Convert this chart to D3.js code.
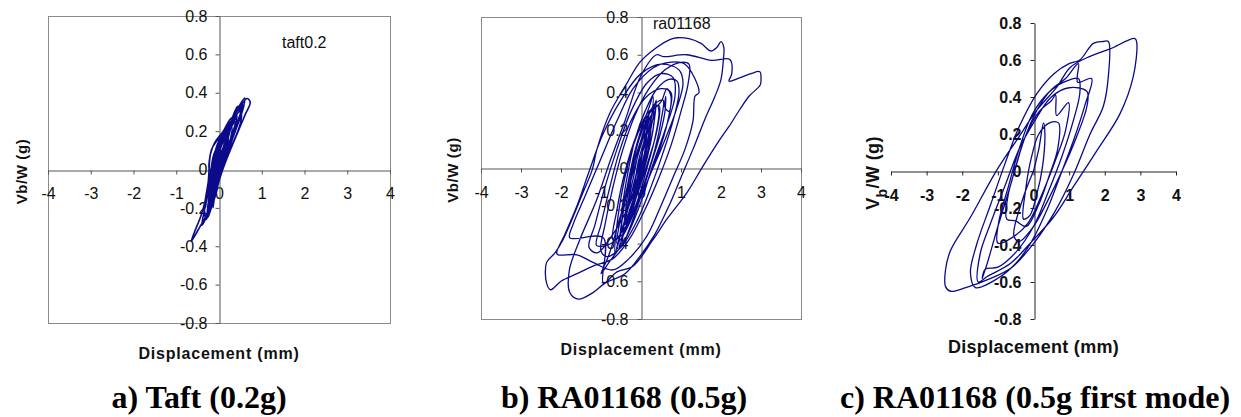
<!DOCTYPE html>
<html>
<head>
<meta charset="utf-8">
<script src="https://cdn.jsdelivr.net/npm/d3@7"></script>
<style>
  body { margin: 0; background: #fff; }
  svg { display: block; }
</style>
</head>
<body>
<div id="chart"></div>
<script>
// axis ticks shared by the three plots
const xTicks = [-4, -3, -2, -1, 0, 1, 2, 3, 4]
const yTicks = [-0.8, -0.6, -0.4, -0.2, 0, 0.2, 0.4, 0.6, 0.8]
const xTickLabels = ['-4', '-3', '-2', '-1', '0', '1', '2', '3', '4']
const yTickLabels = ['-0.8', '-0.6', '-0.4', '-0.2', '0', '0.2', '0.4', '0.6', '0.8']

const captions = ['a) Taft (0.2g)', 'b) RA01168 (0.5g)', 'c) RA01168 (0.5g first mode)']
const recordLabels = ['taft0.2', 'ra01168', '']

// [displacement (mm), Vb/W (g)]
const taftLoop = [
  [0, 0], [0.05, 0.06], [0.12, 0.1], [0.08, 0.04], [-0.02, -0.04], [-0.1, -0.1], [-0.06, -0.04],
  [0.02, 0.06], [0.15, 0.14], [0.22, 0.16], [0.14, 0.08], [0, -0.03], [-0.14, -0.14], [-0.2, -0.18],
  [-0.16, -0.08], [-0.1, 0.03], [0.05, 0.12], [0.2, 0.19], [0.3, 0.22], [0.26, 0.15], [0.12, 0.05],
  [-0.05, -0.08], [-0.2, -0.19], [-0.28, -0.24], [-0.22, -0.12], [-0.14, 0.02], [0, 0.12], [0.18, 0.2],
  [0.36, 0.27], [0.42, 0.28], [0.34, 0.2], [0.18, 0.08], [0.02, -0.03], [-0.12, -0.15], [-0.22, -0.22],
  [-0.15, -0.1], [-0.08, 0.03], [0.06, 0.14], [0.26, 0.23], [0.45, 0.32], [0.5, 0.3], [0.38, 0.2],
  [0.2, 0.09], [0.05, -0.02], [-0.1, -0.12], [-0.3, -0.24], [-0.45, -0.3], [-0.65, -0.375], [-0.58, -0.33],
  [-0.42, -0.24], [-0.3, -0.14], [-0.2, -0.02], [-0.12, 0.08], [0.05, 0.15], [0.25, 0.23], [0.42, 0.31],
  [0.6, 0.372], [0.58, 0.33], [0.48, 0.26], [0.3, 0.15], [0.15, 0.05], [0, -0.06], [-0.12, -0.16],
  [-0.22, -0.2], [-0.16, -0.06], [-0.08, 0.06], [0.1, 0.17], [0.3, 0.26], [0.5, 0.33], [0.66, 0.37],
  [0.73, 0.35], [0.62, 0.29], [0.45, 0.2], [0.28, 0.11], [0.12, 0.02], [-0.03, -0.08], [-0.15, -0.17],
  [-0.24, -0.22], [-0.18, -0.1], [-0.12, 0], [-0.02, 0.1], [0.12, 0.16], [0.28, 0.22], [0.38, 0.25],
  [0.3, 0.17], [0.15, 0.07], [0, -0.04], [-0.1, -0.12], [-0.15, -0.14], [-0.1, -0.06], [0, 0.04],
  [0.12, 0.11], [0.2, 0.14], [0.14, 0.08], [0.04, 0], [-0.04, -0.06], [0.02, 0],
  [0.08, 0.1], [0.2, 0.18], [0.34, 0.25], [0.4, 0.27], [0.32, 0.19], [0.18, 0.1], [0.05, 0.01],
  [-0.08, -0.1], [-0.18, -0.2], [-0.26, -0.25], [-0.2, -0.14], [-0.13, -0.02], [-0.05, 0.1],
  [0.1, 0.18], [0.24, 0.24], [0.46, 0.3], [0.55, 0.34], [0.5, 0.29], [0.36, 0.21], [0.2, 0.12],
  [0.06, 0.03], [-0.06, -0.08], [-0.17, -0.16], [-0.32, -0.26], [-0.4, -0.29], [-0.33, -0.2],
  [-0.22, -0.09], [-0.14, 0.04], [-0.04, 0.13], [0.12, 0.2], [0.3, 0.25], [0.22, 0.17], [0.08, 0.07],
  [-0.04, -0.02], [-0.12, -0.11], [-0.08, -0.02], [0, 0.08], [0.1, 0.14], [0.16, 0.12], [0.08, 0.04],
  [-0.05, -0.06], [-0.14, -0.2], [-0.1, -0.1], [-0.04, 0.02], [0.04, 0.1],
  [-0.1, 0.02], [-0.22, 0], [-0.18, 0.1], [-0.05, 0.15], [0.2, 0.21], [0.44, 0.33], [0.52, 0.3],
  [0.5, 0.24], [0.25, 0.1], [0.09, 0.015], [-0.06, -0.106], [-0.18, -0.19], [-0.3, -0.26],
  [-0.34, -0.2], [-0.25, -0.06], [-0.2, 0.08], [-0.1, 0.14], [0.1, 0.2], [0.3, 0.27], [0.4, 0.26],
  [0.3, 0.15], [0.15, 0.07], [0, -0.03], [-0.12, -0.12], [-0.2, -0.12], [-0.15, 0.02], [-0.08, 0.1],
  [0.08, 0.18], [0.22, 0.2], [0.18, 0.12], [0.05, 0.03]
]

const ra01168Loop = [
  [0, 0], [0.1, 0.08], [0.2, 0.15], [0.25, 0.2], [0.18, 0.1], [0.05, 0], [-0.1, -0.12], [-0.2, -0.2],
  [-0.15, -0.08], [-0.05, 0.05], [0.1, 0.15], [0.3, 0.26], [0.35, 0.3], [0.28, 0.18], [0.1, 0.02],
  [-0.1, -0.14], [-0.3, -0.26], [-0.38, -0.3], [-0.3, -0.15], [-0.2, 0], [0, 0.14], [0.2, 0.25],
  [0.4, 0.33], [0.45, 0.3], [0.35, 0.16], [0.15, 0], [-0.1, -0.18], [-0.35, -0.3], [-0.5, -0.36],
  [-0.42, -0.2], [-0.3, -0.05], [-0.1, 0.12], [0.15, 0.26], [0.35, 0.34], [0.55, 0.36], [0.5, 0.25],
  [0.35, 0.1], [0.1, -0.07], [-0.15, -0.22], [-0.4, -0.34], [-0.6, -0.4], [-0.5, -0.25],
  [-0.35, -0.05], [-0.15, 0.15], [0.1, 0.3], [0.4, 0.42], [0.7, 0.47], [0.9, 0.46], [0.95, 0.4],
  [0.8, 0.25], [0.55, 0.08], [0.25, -0.1], [-0.1, -0.28], [-0.5, -0.42], [-0.85, -0.47], [-1, -0.44],
  [-0.9, -0.3], [-0.7, -0.1], [-0.45, 0.1], [-0.15, 0.28], [0.2, 0.42], [0.6, 0.52], [1, 0.56],
  [1.2, 0.55], [1.18, 0.45], [1, 0.3], [0.75, 0.12], [0.45, -0.05], [0.1, -0.22], [-0.3, -0.38],
  [-0.7, -0.48], [-1.2, -0.52], [-1.6, -0.56], [-2, -0.6], [-2.26, -0.645], [-2.36, -0.61],
  [-2.36, -0.5], [-2.15, -0.45], [-1.95, -0.38], [-1.7, -0.26], [-1.45, -0.13], [-1.22, -0.01],
  [-1.1, 0.1], [-0.78, 0.29], [-0.35, 0.45], [-0.03, 0.56], [0.4, 0.64], [0.72, 0.68], [0.9, 0.69],
  [1.2, 0.685], [1.5, 0.66], [1.75, 0.62], [1.9, 0.64], [2, 0.67], [2.07, 0.64], [2.06, 0.575],
  [2, 0.47], [1.85, 0.38], [1.6, 0.26], [1.3, 0.1], [1, -0.05], [0.7, -0.2], [0.35, -0.35], [0, -0.46],
  [-0.4, -0.56], [-0.9, -0.61], [-1.2, -0.66], [-1.57, -0.695], [-1.78, -0.66], [-1.79, -0.54],
  [-1.53, -0.38], [-1.11, -0.17], [-0.75, 0.05], [-0.4, 0.25], [0, 0.49], [0.39, 0.6], [0.56, 0.59],
  [1.14, 0.6], [1.77, 0.57], [2.22, 0.575], [2.27, 0.5], [2.2, 0.46], [2.5, 0.48], [2.75, 0.5],
  [2.97, 0.51], [3, 0.47], [2.98, 0.44], [2.7, 0.38], [2.47, 0.31], [2.2, 0.22], [1.97, 0.15],
  [1.55, 0.01], [1.15, -0.13], [0.65, -0.27], [0.3, -0.38], [-0.2, -0.52], [-0.6, -0.55],
  [-0.94, -0.61], [-0.94, -0.37], [-1.78, -0.37], [-1.7, -0.3], [-1.4, -0.15], [-1, 0.05],
  [-0.6, 0.25], [-0.2, 0.42], [0.3, 0.53], [0.7, 0.56], [1.1, 0.55], [1.45, 0.4], [1.35, 0.38],
  [1.3, 0.25], [1.1, 0.1], [0.8, -0.05], [0.5, -0.2], [0.15, -0.36], [-0.3, -0.48], [-0.7, -0.54],
  [-1.2, -0.5], [-1.6, -0.46], [-2.07, -0.46], [-2.11, -0.45], [-1.9, -0.35], [-1.6, -0.2],
  [-1.3, -0.02], [-0.95, 0.18], [-0.5, 0.36], [0, 0.5], [0.5, 0.55], [0.95, 0.52], [1.05, 0.45],
  [0.9, 0.32], [0.6, 0.15], [0.3, 0], [0, -0.15], [-0.35, -0.3], [-0.75, -0.4], [-1.11, -0.41],
  [-1, -0.3], [-0.8, -0.12], [-0.55, 0.08], [-0.25, 0.25], [0.1, 0.37], [0.5, 0.42], [0.75, 0.4],
  [0.7, 0.28], [0.5, 0.12], [0.2, -0.05], [-0.1, -0.2], [-0.45, -0.35], [-0.7, -0.38], [-0.6, -0.22],
  [-0.4, -0.02], [-0.1, 0.18], [0.2, 0.3], [0.45, 0.33], [0.4, 0.2], [0.2, 0.05], [0, -0.08],
  [-0.2, -0.2], [-0.35, -0.25], [-0.2, -0.1], [0, 0.06], [0.15, 0.14], [0.1, 0.05], [0, 0],
  [0.05, 0.1], [0.2, 0.22], [0.3, 0.3], [0.38, 0.36], [0.3, 0.2], [0.15, 0.05], [-0.05, -0.1],
  [-0.25, -0.25], [-0.45, -0.36], [-0.55, -0.42], [-0.48, -0.28], [-0.35, -0.12], [-0.2, 0.05],
  [0, 0.2], [0.2, 0.32], [0.3, 0.38], [0.25, 0.25], [0.1, 0.08], [-0.1, -0.1], [-0.3, -0.25],
  [-0.5, -0.34], [-0.65, -0.45], [-0.6, -0.3], [-0.45, -0.1], [-0.25, 0.08], [0, 0.22], [0.25, 0.3],
  [0.5, 0.35], [0.65, 0.42], [0.75, 0.38], [0.7, 0.3], [0.6, 0.32], [0.62, 0.38], [0.6, 0.3],
  [0.48, 0.18], [0.25, 0.02], [0, -0.15], [-0.25, -0.3], [-0.45, -0.4], [-0.4, -0.25], [-0.3, -0.1],
  [-0.15, 0.05], [0.05, 0.18], [0.15, 0.26], [0.12, 0.12], [0, 0], [-0.15, -0.12], [-0.3, -0.2],
  [-0.7, -0.35], [-1.1, -0.45], [-1.3, -0.42], [-1.15, -0.3], [-0.9, -0.1], [-0.6, 0.1],
  [-0.25, 0.3], [0.15, 0.45], [0.5, 0.5], [0.8, 0.48], [0.85, 0.38], [0.6, 0.2], [0.3, 0.02],
  [0, -0.18], [-0.4, -0.38], [-0.8, -0.5], [-1, -0.56], [-0.8, -0.46], [-0.55, -0.28], [-0.3, -0.1],
  [-0.1, 0.05], [0.1, 0.2], [0.2, 0.28], [0.1, 0.14], [-0.05, 0.02], [-0.2, -0.1], [-0.1, -0.02], [0, 0.05],
  [0.12, 0.18], [0.25, 0.28], [0.2, 0.16], [0.05, 0.02], [-0.12, -0.12], [-0.28, -0.22], [-0.4, -0.3],
  [-0.32, -0.18], [-0.18, -0.04], [-0.05, 0.1], [0.1, 0.22], [0.22, 0.3], [0.32, 0.32], [0.22, 0.18],
  [0.05, 0.04], [-0.12, -0.08], [-0.3, -0.2], [-0.48, -0.32], [-0.42, -0.18], [-0.28, -0.04],
  [-0.12, 0.1], [0.02, 0.2], [0.1, 0.26], [0.05, 0.1], [-0.08, -0.04], [-0.2, -0.14], [-0.12, -0.04], [0, 0.02]
]

const firstModeLoop = [
  [0, 0], [0.15, 0.12], [0.28, 0.26], [0.32, 0.2], [0.25, 0.02], [0.1, -0.12], [-0.1, -0.24],
  [-0.28, -0.26], [-0.22, -0.1], [-0.05, 0.08], [0.15, 0.2], [0.45, 0.26], [0.7, 0.26], [0.68, 0.12],
  [0.45, -0.02], [0.15, -0.18], [-0.2, -0.3], [-0.5, -0.27], [-0.75, -0.26], [-0.72, -0.14],
  [-0.5, 0.02], [-0.2, 0.2], [0.15, 0.32], [0.5, 0.38], [0.62, 0.41], [0.65, 0.3], [0.98, 0.37],
  [0.9, 0.22], [0.6, 0.05], [0.25, -0.12], [-0.15, -0.28], [-0.6, -0.36], [-1, -0.39], [-0.98, -0.28],
  [-0.7, -0.08], [-0.4, 0.12], [-0.05, 0.3], [0.4, 0.42], [0.85, 0.48], [1.26, 0.5], [1.3, 0.42],
  [1.1, 0.26], [0.8, 0.08], [0.4, -0.12], [0, -0.3], [-0.5, -0.44], [-1, -0.52], [-1.35, -0.53],
  [-1.44, -0.58], [-1.3, -0.5], [-1, -0.3], [-0.65, -0.08], [-0.3, 0.15], [0.1, 0.33], [0.5, 0.44],
  [0.9, 0.5], [1.26, 0.58], [1.24, 0.48], [1.63, 0.5], [1.45, 0.36], [1.15, 0.18], [0.8, 0],
  [0.4, -0.2], [-0.05, -0.38], [-0.5, -0.5], [-1, -0.58], [-1.63, -0.63], [-1.77, -0.55], [-1.6, -0.4],
  [-1.2, -0.18], [-0.8, 0.04], [-0.4, 0.24], [0.1, 0.42], [0.6, 0.53], [1, 0.58], [1.3, 0.6],
  [1.68, 0.69], [1.96, 0.7], [2.1, 0.7], [2.1, 0.51], [1.96, 0.35], [1.59, 0.2], [1.12, -0.02],
  [0.6, -0.22], [0.05, -0.38], [-0.6, -0.52], [-1.2, -0.58], [-1.9, -0.63], [-2.33, -0.65],
  [-2.47, -0.625], [-2.47, -0.535], [-2.33, -0.43], [-1.77, -0.25], [-1.03, 0.005], [-0.46, 0.17],
  [0.1, 0.33], [0.66, 0.455], [1.03, 0.56], [1.59, 0.62], [2.15, 0.66], [2.85, 0.716], [2.9, 0.69],
  [2.8, 0.51], [2.43, 0.31], [1.78, 0.11], [1.12, -0.085], [0.56, -0.25], [-0.09, -0.39],
  [-0.65, -0.5], [-1.3, -0.57], [-1.55, -0.6], [-1.5, -0.45], [-1.2, -0.28], [-0.8, -0.08],
  [-0.4, 0.12], [0, 0.26], [0.5, 0.4], [1, 0.45], [1.5, 0.43], [1.5, 0.35], [1.2, 0.18], [0.8, 0],
  [0.4, -0.16], [0, -0.3], [-0.4, -0.38], [-0.55, -0.35], [-0.3, -0.15], [0, 0]
]

const loops = [taftLoop, ra01168Loop, firstModeLoop]

// layout of each plot on the page
const panels = [
  { left: 48, right: 390, top: 16, bottom: 323, box: true, bold: false, titleSize: 16, spacing: 0.8,
    yTitleX: 22, xTitleY: 359, capX: 199, labelX: 282, labelY: 48, xPad: 13, yPad: 8 },
  { left: 481, right: 801, top: 17, bottom: 319, box: true, bold: false, titleSize: 16, spacing: 0.8,
    yTitleX: 453, xTitleY: 355, capX: 624, labelX: 653, labelY: 29, xPad: 14, yPad: 9 },
  { left: 891, right: 1176, top: 23, bottom: 319, box: false, bold: true, titleSize: 18, spacing: 0.3,
    yTitleX: 873, xTitleY: 353, capX: 1035, labelX: 0, labelY: 0, xPad: 14, yPad: 9 }
]

const svg = d3.select('#chart').append('svg')
  .attr('width', 1241)
  .attr('height', 417)

panels.forEach((p, i) => {
  const xScale = d3.scaleLinear().domain([-4, 4]).range([p.left, p.right])
  const yScale = d3.scaleLinear().domain([-0.8, 0.8]).range([p.bottom, p.top])
  const g = svg.append('g')

  if (p.box) {
    g.append('rect')
      .attr('x', p.left + 0.5)
      .attr('y', p.top + 0.5)
      .attr('width', p.right - p.left)
      .attr('height', p.bottom - p.top)
      .attr('fill', 'none')
      .attr('stroke', '#8a8a8a')
      .attr('stroke-width', 1)
  }

  const line = d3.line()
    .x(d => xScale(d[0]))
    .y(d => yScale(d[1]))
    .curve(d3.curveCatmullRom.alpha(0.5))

  const xAxis = d3.axisBottom(xScale)
    .tickValues(xTicks)
    .tickFormat((d, k) => xTickLabels[k])
    .tickSize(4)
    .tickSizeOuter(0)
    .tickPadding(p.xPad)
  const yAxis = d3.axisLeft(yScale)
    .tickValues(yTicks)
    .tickFormat((d, k) => yTickLabels[k])
    .tickSize(4)
    .tickSizeOuter(0)
    .tickPadding(p.yPad)

  const axisColor = p.box ? '#555' : '#222'
  const gx = g.append('g')
    .attr('transform', `translate(0,${Math.round(yScale(0)) + 0.5})`)
    .call(xAxis)
  const gy = g.append('g')
    .attr('transform', `translate(${Math.round(xScale(0)) + 0.5},0)`)
    .call(yAxis)

  ;[gx, gy].forEach(a => {
    a.select('.domain').attr('stroke', axisColor)
    a.selectAll('.tick line').attr('stroke', axisColor)
    a.selectAll('text')
      .attr('fill', '#111')
      .style('font-family', 'Liberation Sans, Arial, sans-serif')
      .style('font-size', '16px')
      .style('font-weight', p.bold ? 'bold' : 'normal')
  })

  g.append('path')
    .datum(loops[i])
    .attr('d', line)
    .attr('fill', 'none')
    .attr('stroke', '#0a0a8a')
    .attr('stroke-width', i === 0 ? 1.6 : 1.3)
    .attr('stroke-linejoin', 'round')

  if (recordLabels[i]) {
    g.append('text')
      .attr('x', p.labelX)
      .attr('y', p.labelY)
      .style('font-family', 'Liberation Sans, Arial, sans-serif')
      .style('font-size', '16px')
      .attr('fill', '#111')
      .text(recordLabels[i])
  }

  // x title
  g.append('text')
    .attr('x', (p.left + p.right) / 2)
    .attr('y', p.xTitleY)
    .attr('text-anchor', 'middle')
    .style('font-family', 'Liberation Sans, Arial, sans-serif')
    .style('font-weight', 'bold')
    .style('font-size', p.titleSize + 'px')
    .style('letter-spacing', p.spacing + 'px')
    .attr('fill', '#111')
    .text('Displacement (mm)')

  // y title
  const yt = g.append('text')
    .attr('transform', `translate(${p.yTitleX},${yScale(0) + 2}) rotate(-90)`)
    .attr('text-anchor', 'middle')
    .attr('dy', '0.35em')
    .style('font-family', 'Liberation Sans, Arial, sans-serif')
    .style('font-weight', 'bold')
    .style('font-size', (p.box ? 15 : 18) + 'px')
    .style('letter-spacing', p.box ? '0.6px' : '0.4px')
    .attr('fill', '#111')
  if (p.box) {
    yt.text('Vb/W (g)')
  } else {
    yt.append('tspan').text('V')
    yt.append('tspan').attr('baseline-shift', 'sub').style('font-size', '14px').text('b')
    yt.append('tspan').text('/W (g)')
  }

  // caption under the plot
  svg.append('text')
    .attr('x', p.capX)
    .attr('y', 408)
    .attr('text-anchor', 'middle')
    .style('font-family', 'Liberation Serif, Times New Roman, serif')
    .style('font-weight', 'bold')
    .style('font-size', '32px')
    .attr('fill', '#000')
    .text(captions[i])
})
</script>
</body>
</html>
